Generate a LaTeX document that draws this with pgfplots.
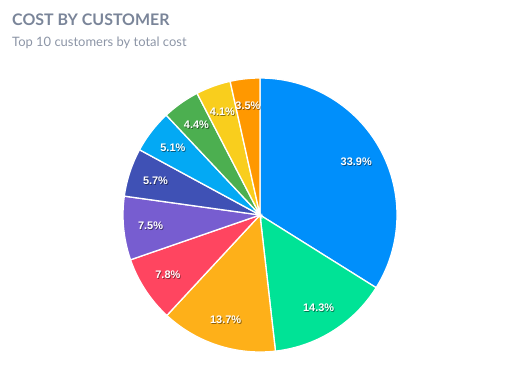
\documentclass[border=0pt]{standalone}
\usepackage{pgfplots}
\pgfplotsset{compat=1.18}
\usepackage{fontspec}
\setmainfont{Liberation Sans}
\newfontfamily\titlefont{Lato}
\definecolor{c1}{HTML}{008FFB}
\definecolor{c2}{HTML}{00E396}
\definecolor{c3}{HTML}{FEB019}
\definecolor{c4}{HTML}{FF4560}
\definecolor{c5}{HTML}{775DD0}
\definecolor{c6}{HTML}{3F51B5}
\definecolor{c7}{HTML}{03A9F4}
\definecolor{c8}{HTML}{4CAF50}
\definecolor{c9}{HTML}{F9CE1D}
\definecolor{c10}{HTML}{FF9800}
\definecolor{titlegray}{HTML}{7A8599}
\definecolor{subgray}{HTML}{8C95A6}
% #1 cumulative start (%), #2 share (%), #3 colour
\newcommand{\slice}[3]{%
  \addplot[fill=#3, draw=white, line width=1.3bp, domain={90-3.6*(#1+#2)}:{90-3.6*#1}, samples=90, variable=\t]
    ({260+137*cos(t)},{150+137*sin(t)}) -- (axis cs:260,150) -- cycle;
}
\newcommand{\slicelabel}[2]{%
  \node[text=black, opacity=0.45, font=\bfseries\fontsize{11}{13}\selectfont, inner sep=0pt]
    at (axis cs:{260.8+110*cos(90-3.6*(#1+#2/2))},{149.2+110*sin(90-3.6*(#1+#2/2))}) {#2\%};
  \node[text=white, font=\bfseries\fontsize{11}{13}\selectfont, inner sep=0pt]
    at (axis cs:{260+110*cos(90-3.6*(#1+#2/2))},{150+110*sin(90-3.6*(#1+#2/2))}) {#2\%};
}
\begin{document}
\begin{tikzpicture}[x=1bp,y=1bp]
\path[use as bounding box] (0,0) rectangle (518,365);
\begin{axis}[
  at={(0,0)}, anchor=south west,
  scale only axis, width=518bp, height=365bp,
  xmin=0, xmax=518, ymin=0, ymax=365,
  hide axis, clip=false,
]
\slice{0}{33.9}{c1}
\slice{33.9}{14.3}{c2}
\slice{48.2}{13.7}{c3}
\slice{61.9}{7.8}{c4}
\slice{69.7}{7.5}{c5}
\slice{77.2}{5.7}{c6}
\slice{82.9}{5.1}{c7}
\slice{88.0}{4.4}{c8}
\slice{92.4}{4.1}{c9}
\slice{96.5}{3.5}{c10}
\slicelabel{0}{33.9}
\slicelabel{33.9}{14.3}
\slicelabel{48.2}{13.7}
\slicelabel{61.9}{7.8}
\slicelabel{69.7}{7.5}
\slicelabel{77.2}{5.7}
\slicelabel{82.9}{5.1}
\slicelabel{88.0}{4.4}
\slicelabel{92.4}{4.1}
\slicelabel{96.5}{3.5}
\node[anchor=base west, inner sep=0pt, text=titlegray, font=\titlefont\bfseries\fontsize{16}{18}\selectfont] at (axis cs:12,339) {COST BY CUSTOMER};
\node[anchor=base west, inner sep=0pt, text=subgray, font=\titlefont\fontsize{13}{15}\selectfont] at (axis cs:12,318) {Top 10 customers by total cost};
\end{axis}
\end{tikzpicture}
\end{document}
